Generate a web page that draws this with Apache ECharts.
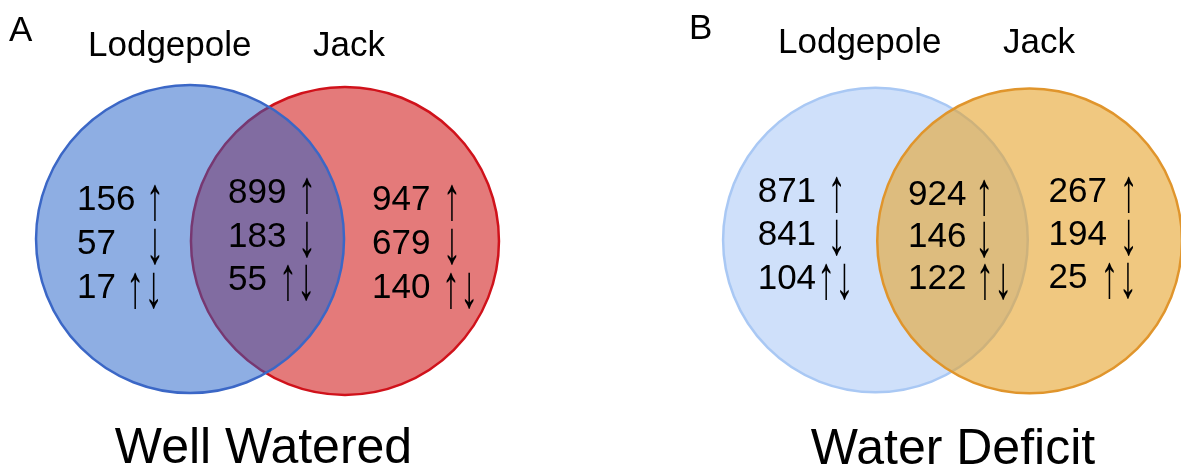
<!DOCTYPE html>
<html>
<head>
<meta charset="utf-8">
<script src="https://cdn.jsdelivr.net/npm/echarts@6/dist/echarts.min.js"></script>
<style>
html,body{margin:0;padding:0;background:#fff;}
#chart{width:1181px;height:474px;}
</style>
</head>
<body>
<div id="chart"></div>
<script>
// ---------------- data ----------------
const setNames = ['Lodgepole', 'Jack'];
const panelLetters = ['A', 'B'];
const panelTitles = ['Well Watered', 'Water Deficit'];
const directionMarks = ['\u2191', '\u2193', '\u2191\u2193'];
const wellWateredLodgepoleOnly = [156, 57, 17];
const wellWateredShared = [899, 183, 55];
const wellWateredJackOnly = [947, 679, 140];
const waterDeficitLodgepoleOnly = [871, 841, 104];
const waterDeficitShared = [924, 146, 122];
const waterDeficitJackOnly = [267, 194, 25];

// ---------------- layout (data units of each panel's hidden axes) ----------------
const FONT = '"Liberation Sans", Arial, Helvetica, sans-serif';
const panels = [
  {
    grid: { left: 36.5, top: 9, width: 462, height: 462 },
    circles: [
      { x: -0.503, y: -0.006, r: 1, fill: 'rgba(29,93,199,0.5)', stroke: '#3b67c6', z: 2 },
      { x: 0.503, y: 0.006, r: 1, fill: '#e47a7a', stroke: '#d0121b', z: 1 }
    ],
    regions: [
      { values: wellWateredLodgepoleOnly, numX: -1.237, arrowX: [-0.731, -0.731, -0.799], rowY: [-0.26, 0.026, 0.312] },
      { values: wellWateredShared, numX: -0.256, arrowX: [0.256, 0.256, 0.192], rowY: [-0.302, -0.019, 0.26] },
      { values: wellWateredJackOnly, numX: 0.679, arrowX: [1.198, 1.198, 1.25], rowY: [-0.26, 0.026, 0.312] }
    ],
    letter: { x: 9, y: 31 },
    names: [{ x: 88, y: 46 }, { x: 313, y: 46 }],
    title: { x: 263.5, y: 449 }
  },
  {
    grid: { left: 724, top: 9, width: 462, height: 462 },
    circles: [
      { x: -0.506, y: 0, r: 1, fill: '#cfe0fa', stroke: '#a9c8f4', z: 1 },
      { x: 0.506, y: 0.006, r: 1, fill: 'rgba(230,163,43,0.6)', stroke: '#e0952c', z: 2 }
    ],
    regions: [
      { values: waterDeficitLodgepoleOnly, numX: -1.279, arrowX: [-0.76, -0.76, -0.769], rowY: [-0.308, -0.029, 0.256] },
      { values: waterDeficitShared, numX: -0.292, arrowX: [0.208, 0.208, 0.273], rowY: [-0.292, -0.016, 0.256] },
      { values: waterDeficitJackOnly, numX: 0.63, arrowX: [1.156, 1.156, 1.091], rowY: [-0.308, -0.029, 0.247] }
    ],
    letter: { x: 689, y: 29 },
    names: [{ x: 778, y: 43 }, { x: 1003, y: 43 }],
    title: { x: 953, y: 450 }
  }
];

const grids = [], xAxes = [], yAxes = [], series = [], graphics = [];
panels.forEach(function (p, pi) {
  grids.push(p.grid);
  xAxes.push({ type: 'value', gridIndex: pi, min: -1.5, max: 1.5, show: false });
  yAxes.push({ type: 'value', gridIndex: pi, min: -1.5, max: 1.5, inverse: true, show: false });

  // circles
  const circ = p.circles;
  series.push({
    type: 'custom',
    xAxisIndex: pi, yAxisIndex: pi,
    clip: false, silent: true,
    data: circ.map(function (c, i) { return [c.x, c.y, c.r, i]; }),
    renderItem: function (params, api) {
      const c = circ[api.value(3)];
      const pt = api.coord([api.value(0), api.value(1)]);
      const r = api.size([api.value(2), 0])[0];
      return {
        type: 'circle', z2: c.z,
        shape: { cx: pt[0], cy: pt[1], r: r },
        style: { fill: c.fill, stroke: c.stroke, lineWidth: 2.5 }
      };
    },
    z: 1
  });

  // counts
  const items = [];
  p.regions.forEach(function (reg, ri) {
    reg.values.forEach(function (v, k) {
      items.push([reg.numX, reg.rowY[k], v, k, reg.arrowX[k]]);
    });
  });
  series.push({
    type: 'custom',
    xAxisIndex: pi, yAxisIndex: pi,
    clip: false, silent: true,
    data: items,
    renderItem: function (params, api) {
      const a = api.coord([api.value(0), api.value(1)]);
      const b = api.coord([api.value(4), api.value(1)]);
      return {
        type: 'group',
        children: [
          { type: 'text', x: a[0], y: a[1], style: { text: String(api.value(2)), font: '35px ' + FONT, fill: '#000', align: 'left', verticalAlign: 'middle' } },
          { type: 'text', x: b[0], y: b[1] + 2, scaleX: 1.05, scaleY: 1.75, style: { text: directionMarks[api.value(3)], font: '35px ' + FONT, fill: '#000', align: 'center', verticalAlign: 'middle' } }
        ]
      };
    },
    z: 5
  });

  graphics.push({ type: 'text', x: p.letter.x, y: p.letter.y, style: { text: panelLetters[pi], font: '35px ' + FONT, fill: '#000', verticalAlign: 'middle' } });
  p.names.forEach(function (n, ni) {
    graphics.push({ type: 'text', x: n.x, y: n.y, style: { text: setNames[ni], font: '35px ' + FONT, fill: '#000', verticalAlign: 'middle' } });
  });
  graphics.push({ type: 'text', x: p.title.x, y: p.title.y, style: { text: panelTitles[pi], font: '50px ' + FONT, fill: '#000', align: 'center', verticalAlign: 'middle' } });
});

const chart = echarts.init(document.getElementById('chart'), null, { renderer: 'canvas' });
chart.setOption({
  animation: false,
  backgroundColor: '#fff',
  grid: grids,
  xAxis: xAxes,
  yAxis: yAxes,
  series: series,
  graphic: graphics
});
</script>
</body>
</html>
